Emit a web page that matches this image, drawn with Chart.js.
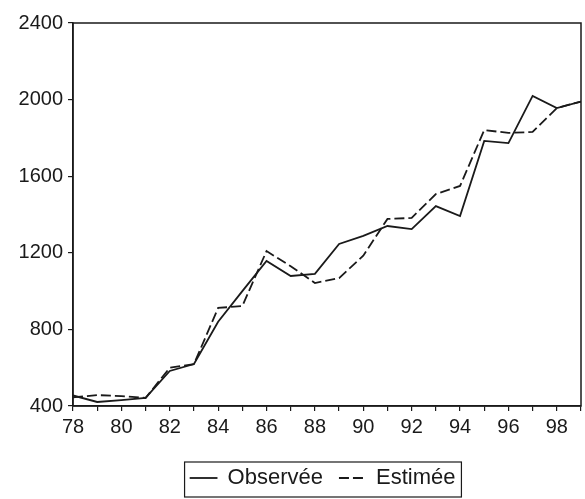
<!DOCTYPE html>
<html>
<head>
<meta charset="utf-8">
<script src="https://cdn.jsdelivr.net/npm/chart.js@4/dist/chart.umd.min.js"></script>
<style>
  html, body { margin: 0; padding: 0; background: #fff; }
  #wrap { width: 585px; height: 499px; }
</style>
</head>
<body>
<div id="wrap"><canvas id="chart" width="585" height="499"></canvas></div>
<script>
// ---- Data ----
const years = [78, 79, 80, 81, 82, 83, 84, 85, 86, 87, 88, 89, 90, 91, 92, 93, 94, 95, 96, 97, 98, 99];
const observee = [455, 421, 431, 442, 583, 619, 840, 1000, 1157, 1079, 1090, 1246, 1288, 1340, 1324, 1444, 1392, 1784, 1773, 2019, 1956, 1990];
const estimee = [445, 457, 452, 442, 600, 619, 912, 922, 1209, 1130, 1042, 1068, 1185, 1377, 1382, 1507, 1549, 1841, 1826, 1831, 1956, 1990];
const yTicks = [400, 800, 1200, 1600, 2000, 2400];
const xLabels = [78, 80, 82, 84, 86, 88, 90, 92, 94, 96, 98];

const INK = '#1a1a1a';
const FONT = "'Liberation Sans', Arial, sans-serif";

const toPts = vals => years.map((y, i) => ({ x: y, y: vals[i] }));

// legend sits centred under the plot area, not the whole canvas
const legendShift = {
  id: 'legendShift',
  afterLayout(chart) {
    const dx = (chart.chartArea.left + chart.chartArea.right) / 2 - (chart.legend.left + chart.legend.right) / 2 - 4;
    chart.legend.left += dx;
    chart.legend.right += dx;
  }
};

// frame round the plot area + box round the legend
const framePlugin = {
  id: 'frame',
  afterDraw(chart) {
    const { ctx, chartArea: a } = chart;
    ctx.save();
    ctx.strokeStyle = INK;
    ctx.lineWidth = 1.5;
    ctx.setLineDash([]);
    ctx.strokeRect(a.left, a.top, a.right - a.left, a.bottom - a.top);
    const hb = chart.legend.legendHitBoxes;
    if (hb && hb.length) {
      const l = hb[0].left - 6;
      const r = hb[hb.length - 1].left + hb[hb.length - 1].width + 6;
      const t = hb[0].top - 5;
      const h = hb[0].height + 13;
      ctx.lineWidth = 1.2;
      ctx.strokeRect(l, t, r - l, h);
    }
    ctx.restore();
  }
};

new Chart(document.getElementById('chart'), {
  type: 'line',
  data: {
    datasets: [
      { label: 'Observée', data: toPts(observee), borderColor: INK, backgroundColor: 'transparent', borderWidth: 1.8, pointRadius: 0, tension: 0, fill: false },
      { label: 'Estimée', data: toPts(estimee), borderColor: INK, backgroundColor: 'transparent', borderWidth: 1.8, borderDash: [10, 4], pointRadius: 0, tension: 0, fill: false }
    ]
  },
  options: {
    responsive: false,
    animation: false,
    layout: { padding: { left: 0, top: 23, right: 1, bottom: 0 } },
    plugins: {
      legend: {
        position: 'bottom',
        labels: {
          color: INK,
          font: { family: FONT, size: 22 },
          boxWidth: 26,
          boxHeight: 0.01,
          padding: 16
        }
      },
      tooltip: { enabled: false }
    },
    scales: {
      x: {
        type: 'linear',
        min: 78,
        max: 99,
        afterBuildTicks(scale) { scale.ticks = years.map(v => ({ value: v })); },
        afterFit(scale) { scale.height = 45; },
        border: { display: true, color: INK, width: 1.5 },
        grid: { drawOnChartArea: false, color: INK, tickLength: 5, lineWidth: 1.2 },
        ticks: {
          color: INK,
          font: { family: FONT, size: 20 },
          padding: 4,
          maxRotation: 0,
          autoSkip: false,
          callback: v => xLabels.includes(v) ? String(v) : ''
        }
      },
      y: {
        min: 400,
        max: 2400,
        afterBuildTicks(scale) { scale.ticks = yTicks.map(v => ({ value: v })); },
        afterFit(scale) { scale.width = 73; },
        border: { display: true, color: INK, width: 1.5 },
        grid: { drawOnChartArea: false, color: INK, tickLength: 5, lineWidth: 1.2 },
        ticks: {
          color: INK,
          font: { family: FONT, size: 20 },
          padding: 5,
          callback: v => String(v)
        }
      }
    }
  },
  plugins: [legendShift, framePlugin]
});
</script>
</body>
</html>
